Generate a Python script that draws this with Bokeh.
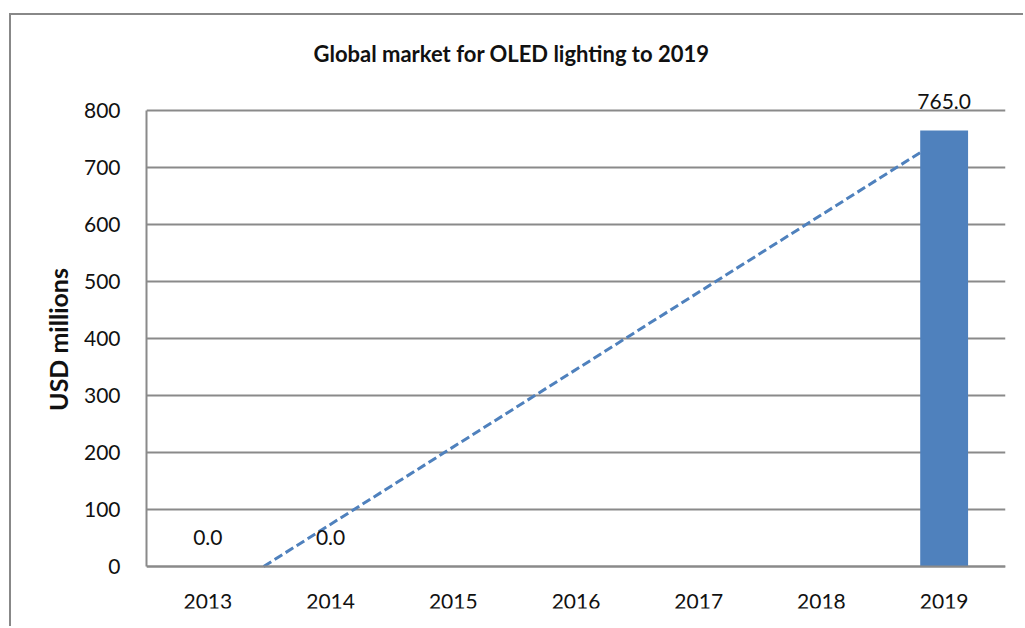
import numpy as np
from bokeh.plotting import figure
from bokeh.models import Range1d, FixedTicker, ColumnDataSource, LabelSet
from bokeh.core.properties import value
from bokeh.embed import file_html
from bokeh.resources import INLINE

years = ["2013", "2014", "2015", "2016", "2017", "2018", "2019"]
values = [0.0, 0.0, None, None, None, None, 765.0]
title_text = "Global market for OLED lighting to 2019"
y_label = "USD millions"
y_ticks = [0, 100, 200, 300, 400, 500, 600, 700, 800]

FONT = "Lato"
BAR = "#4F81BD"
GRID = "#8a8a8a"
TXT = "#111111"

pos = list(range(1, len(years) + 1))
kx = np.array([i for i, v in zip(pos, values) if v is not None], float)
ky = np.array([v for v in values if v is not None], float)
slope, intercept = np.polyfit(kx, ky, 1)
# linear trendline, drawn from where it crosses the value axis floor to the last category
x_start = max(float(pos[0]), -intercept / slope)
tx = np.array([x_start, pos[-1]], float)
ty = slope * tx + intercept

PLOT_H = 456       # pixel height of the 0..800 area
HEAD = 40          # frame space above the top gridline (value labels)
FOOT = 42          # frame space below the zero line (keeps axis title centred)
px_per_unit = PLOT_H / (y_ticks[-1] - y_ticks[0])
frame_h = PLOT_H + HEAD + FOOT
y_top = y_ticks[-1] + HEAD / px_per_unit
y_bot = y_ticks[0] - FOOT / px_per_unit

p = figure(frame_width=859, frame_height=frame_h,
           x_range=Range1d(0.5, len(years) + 0.5), y_range=Range1d(y_bot, y_top),
           output_backend="svg", toolbar_location=None, title=title_text)
p.min_border_left = 135
p.min_border_right = 18
p.min_border_top = 55
p.min_border_bottom = 18
p.outline_line_color = None
p.background_fill_color = "white"
p.border_fill_color = "white"
p.styles = {"border-left": "2px solid #888888", "border-top": "2px solid #888888",
            "margin-left": "9px", "margin-top": "13px"}

p.title.text_font = FONT
p.title.text_font_size = "22px"
p.title.text_font_style = "bold"
p.title.text_color = TXT
p.title.align = "left"
p.title.offset = 167
p.title.standoff = 7

# trendline (linear fit) drawn beneath bars
p.line(tx, ty, line_color=BAR, line_width=3, line_dash="9 4")

src = ColumnDataSource(dict(x=kx, top=ky, lbl=[f"{v:.1f}" for v in ky]))
p.vbar(x="x", top="top", bottom=0, width=0.39, source=src, fill_color=BAR, line_color=None)

labels = LabelSet(x="x", y="top", text="lbl", source=src, text_align="center",
                  text_baseline="middle", y_offset=29, text_font=value(FONT),
                  text_font_size=value("21px"), text_color=value(TXT))
p.add_layout(labels)

p.xaxis.ticker = FixedTicker(ticks=pos)
p.xaxis.major_label_overrides = {i: y for i, y in zip(pos, years)}
p.xaxis.fixed_location = y_ticks[0]
p.yaxis.ticker = FixedTicker(ticks=y_ticks)
p.yaxis.bounds = (y_ticks[0], y_ticks[-1])
for ax in (p.xaxis, p.yaxis):
    ax.major_tick_line_color = None
    ax.minor_tick_line_color = None
    ax.axis_line_color = GRID
    ax.axis_line_width = 2
    ax.major_label_text_font = FONT
    ax.major_label_text_font_size = "21px"
    ax.major_label_text_color = TXT
p.yaxis.major_label_standoff = 20
p.xaxis.major_label_standoff = 21
p.yaxis.axis_label = y_label
p.yaxis.axis_label_text_font = FONT
p.yaxis.axis_label_text_font_size = "25px"
p.yaxis.axis_label_text_font_style = "bold"
p.yaxis.axis_label_text_color = TXT
p.yaxis.axis_label_standoff = 8

p.xgrid.grid_line_color = None
p.ygrid.ticker = FixedTicker(ticks=y_ticks)
p.ygrid.grid_line_color = GRID
p.ygrid.grid_line_width = 2

open("out.html", "w").write(file_html(p, INLINE))
